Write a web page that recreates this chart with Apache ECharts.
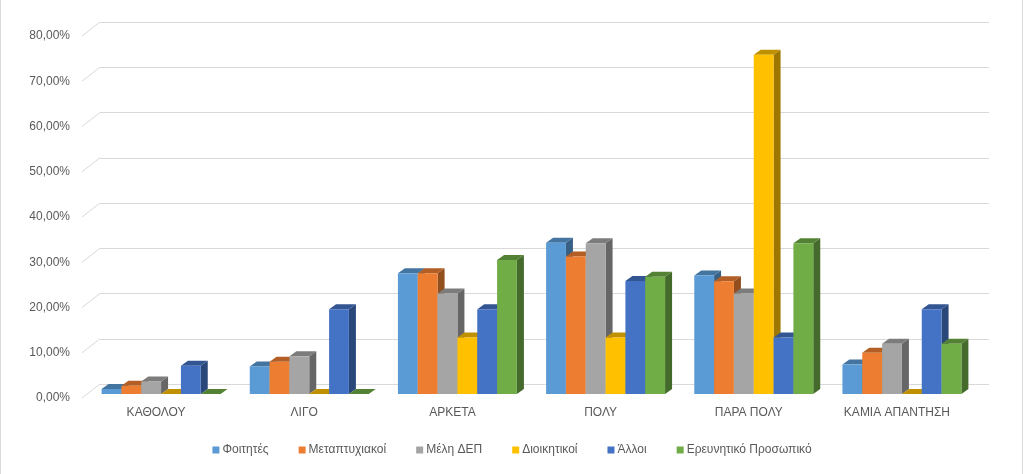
<!DOCTYPE html>
<html>
<head>
<meta charset="utf-8">
<script src="https://cdn.jsdelivr.net/npm/echarts@6/dist/echarts.min.js"></script>
<style>
html,body{margin:0;padding:0;background:#fff;}
#c{width:1024px;height:474px;}
</style>
</head>
<body>
<div id="c"></div>
<script>
const categories = ['ΚΑΘΟΛΟΥ', 'ΛΙΓΟ', 'ΑΡΚΕΤΑ', 'ΠΟΛΥ', 'ΠΑΡΑ ΠΟΛΥ', 'ΚΑΜΙΑ ΑΠΑΝΤΗΣΗ'];
const seriesNames = ['Φοιτητές', 'Μεταπτυχιακοί', 'Μέλη ΔΕΠ', 'Διοικητικοί', 'Άλλοι', 'Ερευνητικό Προσωπικό'];
const foitites = [1.1, 6.1, 26.7, 33.4, 26.2, 6.5];
const metaptyxiakoi = [1.8, 7.1, 26.7, 30.4, 24.9, 9.1];
const meliDEP = [2.78, 8.33, 22.22, 33.33, 22.22, 11.11];
const dioikitikoi = [0, 0, 12.5, 12.5, 75, 0];
const alloi = [6.25, 18.75, 18.75, 25, 12.5, 18.75];
const erevnitiko = [0, 0, 29.63, 25.93, 33.33, 11.11];
const yTicks = [0, 10, 20, 30, 40, 50, 60, 70, 80];

const seriesValues = [foitites, metaptyxiakoi, meliDEP, dioikitikoi, alloi, erevnitiko];
const colors = ['#5B9BD5', '#ED7D31', '#A5A5A5', '#FFC000', '#4472C4', '#70AD47'];

function shade(hex, f) {
  const n = parseInt(hex.slice(1), 16);
  const r = Math.round(((n >> 16) & 255) * f);
  const g = Math.round(((n >> 8) & 255) * f);
  const b = Math.round((n & 255) * f);
  return 'rgb(' + r + ',' + g + ',' + b + ')';
}

const DX = 7, DY = -5;
const NS = seriesValues.length;

const chart = echarts.init(document.getElementById('c'), null, {renderer: 'canvas'});

const textColor = '#595959';
const fontFamily = '"Liberation Sans", Arial, sans-serif';

const barSeries = seriesValues.map(function (vals, si) {
  const col = colors[si];
  return {
    type: 'custom',
    name: seriesNames[si],
    xAxisIndex: 2,
    yAxisIndex: 2,
    itemStyle: {color: col},
    data: vals.map(function (v, i) { return [i, v]; }),
    renderItem: function (params, api) {
      const idx = api.value(0);
      const val = api.value(1);
      const top = api.coord([idx, val]);
      const base = api.coord([idx, 0]);
      const bandW = api.size([1, 0])[0];
      const groupW = bandW * 0.803;
      const barW = groupW / NS;
      const x0 = top[0] - groupW / 2 + si * barW;
      const yT = top[1];
      const yB = base[1];
      return {
        type: 'group',
        children: [
          {
            type: 'polygon',
            shape: {points: [[x0 + barW, yT], [x0 + barW + DX, yT + DY], [x0 + barW + DX, yB + DY], [x0 + barW, yB]]},
            style: {fill: shade(col, 0.62)}
          },
          {
            type: 'polygon',
            shape: {points: [[x0, yT], [x0 + DX, yT + DY], [x0 + barW + DX, yT + DY], [x0 + barW, yT]]},
            style: {fill: shade(col, 0.75)}
          },
          {
            type: 'rect',
            shape: {x: x0, y: yT, width: barW, height: yB - yT},
            style: {fill: col}
          }
        ]
      };
    }
  };
});

const wallSeries = {
  type: 'custom',
  name: 'wall',
  xAxisIndex: 0,
  yAxisIndex: 0,
  silent: true,
  z: 1,
  data: yTicks.map(function (v) { return [0, v]; }),
  renderItem: function (params, api) {
    const p = api.coord([0, api.value(1)]);
    const cs = params.coordSys;
    return {
      type: 'line',
      shape: {x1: cs.x - 18, y1: p[1] + 14, x2: cs.x, y2: p[1]},
      style: {stroke: '#d9d9d9', lineWidth: 1}
    };
  }
};

const option = {
  animation: false,
  backgroundColor: '#ffffff',
  textStyle: {fontFamily: fontFamily},
  legend: {
    data: seriesNames,
    bottom: 13,
    left: 'center',
    icon: 'rect',
    itemWidth: 7,
    itemHeight: 7,
    itemGap: 30,
    textStyle: {color: textColor, fontSize: 12, fontFamily: fontFamily, padding: [0, 0, 0, -2]}
  },
  grid: [
    {left: 100, right: 35, top: 22, bottom: 90},
    {left: 82, right: 53, top: 36, bottom: 76},
    {left: 87, right: 48, top: 32, bottom: 80}
  ],
  xAxis: [
    {type: 'category', gridIndex: 0, data: categories, show: false},
    {type: 'category', gridIndex: 1, data: categories,
      axisLine: {show: false}, axisTick: {show: false},
      axisLabel: {color: textColor, fontSize: 12, margin: 9, fontFamily: fontFamily, interval: 0}},
    {type: 'category', gridIndex: 2, data: categories, show: false}
  ],
  yAxis: [
    {type: 'value', gridIndex: 0, min: 0, max: 80, interval: 10,
      axisLine: {show: false}, axisTick: {show: false}, axisLabel: {show: false},
      splitLine: {show: true, lineStyle: {color: '#d9d9d9', width: 1}}},
    {type: 'value', gridIndex: 1, min: 0, max: 80, interval: 10,
      axisLine: {show: false}, axisTick: {show: false}, splitLine: {show: false},
      axisLabel: {color: textColor, fontSize: 12, margin: 12, fontFamily: fontFamily,
        formatter: function (v) { return v.toFixed(2).replace('.', ',') + '%'; }}},
    {type: 'value', gridIndex: 2, min: 0, max: 80, show: false, splitLine: {show: false}}
  ],
  graphic: [
    {type: 'line', shape: {x1: 0.5, y1: 0, x2: 0.5, y2: 474}, style: {stroke: '#d9d9d9'}},
    {type: 'line', shape: {x1: 1022.5, y1: 0, x2: 1022.5, y2: 474}, style: {stroke: '#d9d9d9'}}
  ],
  series: [wallSeries].concat(barSeries)
};

chart.setOption(option);
</script>
</body>
</html>
